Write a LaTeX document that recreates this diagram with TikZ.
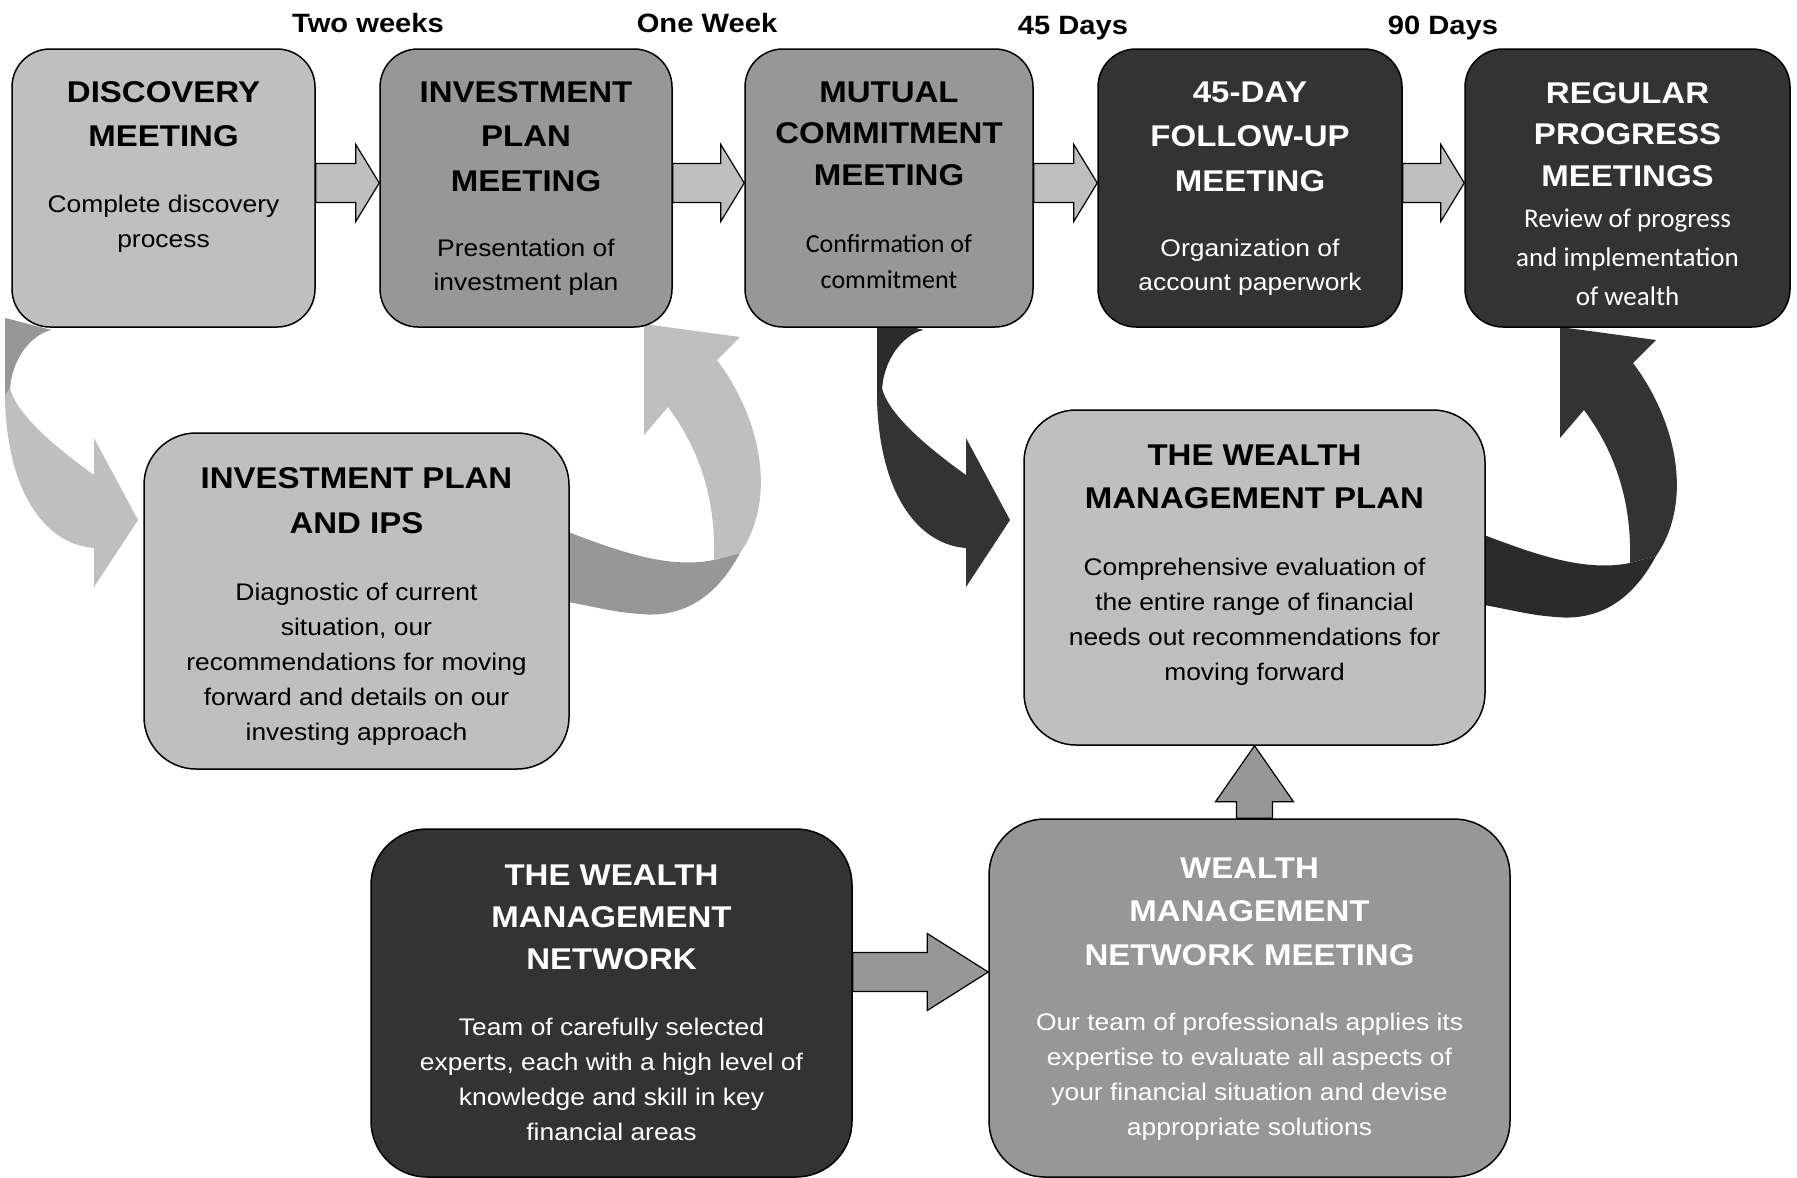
\documentclass[tikz,border=0pt]{standalone}
\usepackage{fontspec}
\setmainfont{Liberation Sans}[FakeStretch=1.1]
\newfontfamily\calibri{Carlito}
\usetikzlibrary{positioning,calc}

\definecolor{lightfill}{HTML}{BFBFBF}
\definecolor{midfill}{HTML}{979797}
\definecolor{darkfill}{HTML}{333333}
\definecolor{darkback}{HTML}{2B2B2B}

\tikzset{
  box/.style={draw, line width=1.5pt, rounded corners=#1, inner sep=0pt},
  box/.default=38pt,
  head/.style={anchor=north, inner sep=0pt, align=center, font=\fontsize{30}{#1}\selectfont\bfseries},
  head/.default=43,
  note/.style={anchor=north, inner sep=0pt, align=center, font=\fontsize{24}{#1}\selectfont},
  note/.default=35,
  flat/.style={draw, line width=1.2pt, line join=miter},
  when/.style={anchor=base, inner sep=0pt, font=\fontsize{26.5}{30}\selectfont\bfseries},
}

% curved band going down and into a box on its right
\newcommand\downribbon[2]{%
  \fill[#1] (5,318) -- (5,400) .. controls (8,500) and (50,545) .. (94,548)
    -- (94,587) -- (138,520) -- (94,438) -- (94,475)
    .. controls (45,440) and (15,410) .. (10,388)
    .. controls (12,360) and (30,335) .. (51,330) -- cycle;
  \fill[#2] (5,318) -- (51,330) .. controls (30,335) and (12,360) .. (10,388) -- (5,395) -- cycle;
}
% curved band leaving a box and going up
\newcommand\upribbon[2]{%
  \fill[#2] (555,527) .. controls (610,548) and (665,570) .. (714,560) -- (740,553)
    .. controls (715,600) and (680,618) .. (640,614)
    .. controls (610,612) and (590,605) .. (555,600) -- cycle;
  \fill[#1] (714,560) .. controls (716,500) and (700,450) .. (668,407) -- (644,435) -- (644,324)
    -- (740,337) -- (717,360) .. controls (762,420) and (777,500) .. (740,553) -- cycle;
}
% straight block arrow between two boxes
\newcommand\rightblock[5]{%
  \path[flat, fill=#4] let \p1=(#1.east), \p2=(#2.west) in
    (\x1,\y1+#5pt+19.5pt) -- (\x2-#3pt,\y1+#5pt+19.5pt) -- (\x2-#3pt,\y1+#5pt+38.5pt)
    -- (\x2,\y1+#5pt) -- (\x2-#3pt,\y1+#5pt-38.5pt) -- (\x2-#3pt,\y1+#5pt-19.5pt)
    -- (\x1,\y1+#5pt-19.5pt) -- cycle;}

\begin{document}
\begin{tikzpicture}[x=1pt, y=-1pt]
  \path[use as bounding box, fill=white] (0,0) rectangle (1797,1178);

  % curved bands
  \downribbon{lightfill}{midfill}
  \upribbon{lightfill}{midfill}
  \begin{scope}[shift={(872,0)}]
    \downribbon{darkfill}{darkback}
  \end{scope}
  \begin{scope}[shift={(916,3)}]
    \upribbon{darkfill}{darkback}
  \end{scope}

  % top row
  \node[box, fill=lightfill, minimum width=303pt, minimum height=278pt] (disc) at (163.5,188) {};
  \node[box, fill=midfill, minimum width=292pt, minimum height=278pt] (ipm) at (526,188) {};
  \node[box, fill=midfill, minimum width=288pt, minimum height=278pt] (mutual) at (889,188) {};
  \node[box, fill=darkfill, minimum width=304pt, minimum height=278pt] (follow) at (1250,188) {};
  \node[box, fill=darkfill, minimum width=325pt, minimum height=278pt] (regular) at (1627.5,188) {};

  % middle and bottom
  \node[box=52pt, fill=lightfill, minimum width=425pt, minimum height=336pt] (ips) at (356.5,601) {};
  \node[box=52pt, fill=lightfill, minimum width=461pt, minimum height=335pt] (plan) at (1254.5,577.5) {};
  \node[box=56pt, fill=darkfill, minimum width=481pt, minimum height=348pt] (network) at (611.5,1003) {};
  \node[box=56pt, fill=midfill, minimum width=521pt, minimum height=358pt] (netmeet) at (1249.5,998) {};

  % straight arrows
  \rightblock{disc}{ipm}{23.5}{lightfill}{5}
  \rightblock{ipm}{mutual}{23.5}{lightfill}{5}
  \rightblock{mutual}{follow}{23.5}{lightfill}{5}
  \rightblock{follow}{regular}{23.5}{lightfill}{5}
  \rightblock{network}{netmeet}{61}{midfill}{31}
  \path[flat, fill=midfill] let \p1=(netmeet.north), \p2=(plan.south) in
    (\x2-18pt,\y1) -- (\x2-18pt,\y2-56pt) -- (\x2-39pt,\y2-56pt) -- (\x2,\y2)
    -- (\x2+39pt,\y2-56pt) -- (\x2+18pt,\y2-56pt) -- (\x2+18pt,\y1) -- cycle;

  % time labels
  \node[when] (wk2) at (368,32) {Two weeks};
  \node[when] (wk1) at (707,32) {One Week};
  \node[when] (d45) at (1073,34) {45 Days};
  \node[when] (d90) at (1443,34) {90 Days};

  % box texts
  \node[head=44] (disc-h) at ([yshift=-33pt]disc.north) {DISCOVERY\\MEETING};
  \node[note=34.5, below=48.5pt of disc-h] (disc-s) {Complete discovery\\process};

  \node[head=44.5] (ipm-h) at ([yshift=-33pt]ipm.north) {INVESTMENT\\PLAN\\MEETING};
  \node[note=34, below=47.5pt of ipm-h] (ipm-s) {Presentation of\\investment plan};

  \node[head=41.5] (mutual-h) at ([yshift=-33pt]mutual.north) {MUTUAL\\COMMITMENT\\MEETING};
  \node[note, font=\calibri\fontsize{26}{36.5}\selectfont, below=48.5pt of mutual-h] (mutual-s) {Confirmation of\\commitment};

  \node[head=44.5, text=white] (follow-h) at ([yshift=-33pt]follow.north) {45-DAY\\FOLLOW-UP\\MEETING};
  \node[note=34, text=white, below=47.5pt of follow-h] (follow-s) {Organization of\\account paperwork};

  \node[head=41.5, text=white] (regular-h) at ([yshift=-34pt]regular.north) {REGULAR\\PROGRESS\\MEETINGS};
  \node[note, text=white, font=\calibri\fontsize{27}{39}\selectfont, below=21.5pt of regular-h] (regular-s) {Review of progress\\and implementation\\of wealth};

  \node[head=45] (ips-h) at ([yshift=-35pt]ips.north) {INVESTMENT PLAN\\AND IPS};
  \node[note, below=49pt of ips-h] (ips-s) {Diagnostic of current\\situation, our\\recommendations for moving\\forward and details on our\\investing approach};

  \node[head] (plan-h) at ([yshift=-35pt]plan.north) {THE WEALTH\\MANAGEMENT PLAN};
  \node[note, below=49pt of plan-h] (plan-s) {Comprehensive evaluation of\\the entire range of financial\\needs out recommendations for\\moving forward};

  \node[head=42, text=white] (network-h) at ([yshift=-36pt]network.north) {THE WEALTH\\MANAGEMENT\\NETWORK};
  \node[note, text=white, below=48.5pt of network-h] (network-s) {Team of carefully selected\\experts, each with a high level of\\knowledge and skill in key\\financial areas};

  \node[head=43.5, text=white] (netmeet-h) at ([yshift=-39pt]netmeet.north) {WEALTH\\MANAGEMENT\\NETWORK MEETING};
  \node[note, text=white, below=47.5pt of netmeet-h] (netmeet-s) {Our team of professionals applies its\\expertise to evaluate all aspects of\\your financial situation and devise\\appropriate solutions};
\end{tikzpicture}
\end{document}
